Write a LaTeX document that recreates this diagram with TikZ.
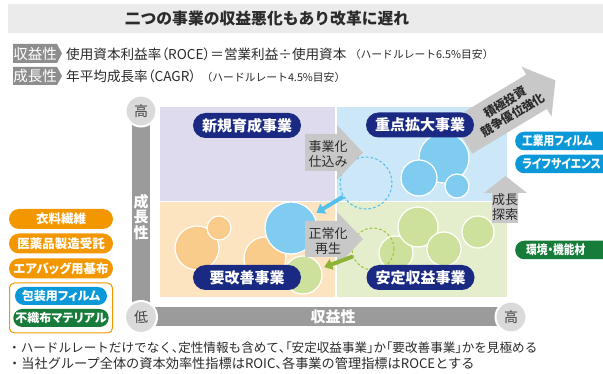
\documentclass[tikz,border=0pt]{standalone}
\usepackage{fontspec}
\setmainfont{Noto Sans CJK JP}
\newfontfamily\pfont{Noto Sans CJK JP}[RawFeature=+palt]
\newfontfamily\cfont{Noto Sans CJK JP}[RawFeature=+palt, FakeStretch=0.86]
\usetikzlibrary{arrows.meta,shapes.misc}
\definecolor{titlebg}{HTML}{EBEBEB}
\definecolor{lblgrey}{HTML}{8E8E8E}
\definecolor{axisgrey}{HTML}{9B9B9B}
\definecolor{endgrey}{HTML}{DADADA}
\definecolor{qtl}{HTML}{DEDBEE}
\definecolor{qtr}{HTML}{CCE8F8}
\definecolor{qbl}{HTML}{FCE4C1}
\definecolor{qbr}{HTML}{E4EECC}
\definecolor{mynavy}{HTML}{1A2A82}
\definecolor{cblue}{HTML}{80CCF1}
\definecolor{cpeach}{HTML}{F9CC8B}
\definecolor{cgreen}{HTML}{CDE09C}
\definecolor{arrgrey}{HTML}{C8C8C8}
\definecolor{dblue}{HTML}{55C0EB}
\definecolor{dgreen}{HTML}{9CC83C}
\definecolor{cyanpill}{HTML}{0A98D8}
\definecolor{greenpill}{HTML}{177B3A}
\definecolor{orangepill}{HTML}{F39700}
\definecolor{txt}{HTML}{2B2B2B}
\definecolor{endtxt}{HTML}{444444}
\newcommand\pp[1]{{\pfont #1}}
\begin{document}
\begin{tikzpicture}[x=1pt,y=-1pt,
  bubble/.style={circle, inner sep=0pt, draw=white, line width=1.2pt},
  dashcirc/.style={circle, inner sep=0pt, line width=1.1pt, dash pattern=on 2.6pt off 2.2pt},
  navypill/.style={rounded rectangle, fill=mynavy, text=white, font=\bfseries\fontsize{15}{18}\selectfont, minimum height=25pt, minimum width=108pt, inner sep=0pt},
  lpill/.style={rounded rectangle, text=white, font=\pfont\bfseries\fontsize{12.5}{15}\selectfont, minimum height=20pt, minimum width=104pt, inner sep=0pt},
  ipill/.style={rounded rectangle, text=white, font=\pfont\bfseries\fontsize{12}{14}\selectfont, minimum height=18pt, minimum width=92pt, inner sep=0pt},
  rpill/.style={rectangle, rounded corners=9pt, text=white, font=\cfont\bfseries\fontsize{12.5}{14}\selectfont, minimum height=18.5pt, text width=110pt, inner xsep=7pt, inner ysep=0pt, anchor=west, align=left},
  endcirc/.style={circle, fill=endgrey, draw=white, line width=2pt, minimum size=31pt, inner sep=0pt, text=endtxt, font=\fontsize{14}{14}\selectfont},
  arrtext/.style={text=txt, font=\fontsize{13}{15}\selectfont, align=center, inner sep=0pt},
  lbl/.style={text=white, font=\fontsize{14.5}{16}\selectfont, inner sep=0pt},
  hdr/.style={anchor=west, text=txt, inner sep=0pt, font=\pfont\fontsize{13.6}{16}\selectfont},
  hdrs/.style={anchor=west, text=txt, inner sep=0pt, font=\fontsize{10.8}{13}\selectfont},
  note/.style={anchor=west, text=txt, inner sep=0pt},
  conn/.style={line width=4pt, shorten >=3pt, -{Triangle[width=11pt,length=8pt]}}
]
\useasboundingbox (0,0) rectangle (603,374);
\clip (0,0) rectangle (603,374);
\fill[white] (0,0) rectangle (603,374);

% title
\fill[titlebg] (8,4) rectangle (603,33);
\node[text=txt, font=\bfseries\fontsize{15.8}{18}\selectfont] (title) at (267,18.5) {二つの事業の収益悪化もあり改革に遅れ};

% header rows
\fill[lblgrey] (13,44) -- (57,44) -- (62,53.5) -- (57,63) -- (13,63) -- cycle;
\node[lbl] (l1) at (35,53.5) {収益性};
\node[hdr] (h1) at (66,54) {使用資本利益率（ROCE）＝営業利益÷使用資本};
\node[hdrs] (h1s) at ([xshift=3pt,yshift=-0.5pt]h1.east) {（ハードルレート6.5\%目安）};
\fill[lblgrey] (13,67) -- (57,67) -- (62,76) -- (57,85) -- (13,85) -- cycle;
\node[lbl] (l2) at (35,76) {成長性};
\node[hdr] (h2) at (66,76.5) {年平均成長率（CAGR）};
\node[hdrs] (h2s) at ([xshift=5pt,yshift=-0.5pt]h2.east) {（ハードルレート4.5\%目安）};

% quadrants
\fill[qtl] (160,107) rectangle (335,201);
\fill[qtr] (336.5,107) rectangle (507,201);
\fill[qbl] (160,202.5) rectangle (335,297);
\fill[qbr] (336.5,202.5) rectangle (507,297);

% bubbles
\node[bubble, fill=cblue, minimum size=50pt] (tr1) at (444,158) {};
\node[bubble, fill=cblue, minimum size=36pt] (tr2) at (419,178) {};
\node[bubble, fill=cblue, minimum size=24pt] (tr3) at (457,186) {};
\node[bubble, fill=cpeach, minimum size=44pt] (bl1) at (197,248) {};
\node[bubble, fill=cpeach, minimum size=24pt] (bl2) at (219,228) {};
\node[bubble, fill=cpeach, minimum size=42pt] (bl3) at (265,258) {};
\node[bubble, fill=cblue, minimum size=52pt] (blb) at (291,228) {};
\node[bubble, fill=cgreen, minimum size=38pt] (blg) at (303,275) {};
\node[bubble, fill=cgreen, minimum size=34pt] (br1) at (396,253) {};
\node[bubble, fill=cgreen, minimum size=40pt] (br2) at (418,227) {};
\node[bubble, fill=cgreen, minimum size=34pt] (br3) at (444,249) {};
\node[bubble, fill=cgreen, minimum size=32pt] (br4) at (478,232) {};

% dashed circles
\node[dashcirc, draw=dblue, minimum size=52pt] (db) at (366,183) {};
\node[dashcirc, draw=dgreen, minimum size=42pt] (dg) at (373,249) {};

% grey arrows
\fill[arrgrey] (305,134) -- (337,134) -- (337,125) -- (363,152.5) -- (337,180) -- (337,171) -- (305,171) -- cycle;
\node[arrtext] (a1) at (328,154.5) {事業化\\仕込み};
\fill[arrgrey] (305,221) -- (337,221) -- (337,212) -- (363,239) -- (337,266) -- (337,257) -- (305,257) -- cycle;
\node[arrtext] (a2) at (328,241) {正常化\\再生};
\fill[arrgrey] (492,223) -- (492,193) -- (484,193) -- (505.5,176) -- (527,193) -- (518,193) -- (518,223) -- cycle;
\node[arrtext] (a3) at (505,207) {成長\\探索};
\begin{scope}[shift={(462,136.5)}, rotate=31]
\fill[arrgrey] (0,-20) -- (87,-20) -- (87,-29) -- (109,0) -- (87,29) -- (87,20) -- (0,20) -- cycle;
\end{scope}
\node[arrtext, font=\bfseries\fontsize{12}{14.5}\selectfont, rotate=31] (a4) at (509,108.5) {積極投資\\競争優位強化};

% connectors
\draw[conn, dblue] (db) -- (blb);
\draw[conn, dgreen!90!black] (dg) -- (blg);

% quadrant labels
\node[navypill] (q1) at (247,125.5) {新規育成事業};
\node[navypill] (q2) at (420,125) {重点拡大事業};
\node[navypill] (q3) at (247,277.5) {要改善事業};
\node[navypill] (q4) at (420.5,277.5) {安定収益事業};

% axes
\fill[axisgrey] (132,111) rectangle (150,317);
\fill[axisgrey] (141,307.5) rectangle (511,326);
\node[endcirc] (yhi) at (141,111) {高};
\node[endcirc, minimum size=32pt] (lo) at (141,317) {低};
\node[endcirc] (xhi) at (511,317) {高};
\node[text=white, font=\bfseries\fontsize{15}{15.5}\selectfont, align=center, inner sep=0pt] (ylab) at (141,217) {成\\長\\性};
\node[text=white, font=\bfseries\fontsize{15}{17}\selectfont, inner sep=0pt] (xlab) at (333,317) {収益性};

% right pills
\node[rpill, fill=cyanpill] (r1) at (515,141) {工業用フィルム};
\node[rpill, fill=cyanpill] (r2) at (515,164) {ライフサイエンス};
\node[rpill, fill=greenpill] (r3) at (515,250) {\hspace*{4pt}環境・機能材};

% left pills
\node[lpill, fill=orangepill] (p1) at (61,219) {衣料繊維};
\node[lpill, fill=orangepill] (p2) at (61,243.5) {医薬品製造受託};
\node[lpill, fill=orangepill] (p3) at (61,268.5) {エアバッグ用基布};
\draw[orangepill, line width=1pt, fill=white, rounded corners=5pt] (9.5,283) rectangle (112.5,333);
\node[ipill, fill=cyanpill] (p4) at (61,296) {包装用フィルム};
\node[ipill, fill=greenpill] (p5) at (61,318) {不織布マテリアル};

% notes
\node[note, font=\fontsize{12.6}{14}\selectfont] (n1) at (8,347.5) {・ハードルレートだけでなく\pp{、}定性情報も含めて\pp{、「}安定収益事業\pp{」}か\pp{「}要改善事業\pp{」}かを見極める};
\node[note, font=\fontsize{13.2}{15}\selectfont] (n2) at (8,363.5) {・当社グループ全体の資本効率性指標はROIC\pp{、}各事業の管理指標はROCEとする};
\end{tikzpicture}
\end{document}
